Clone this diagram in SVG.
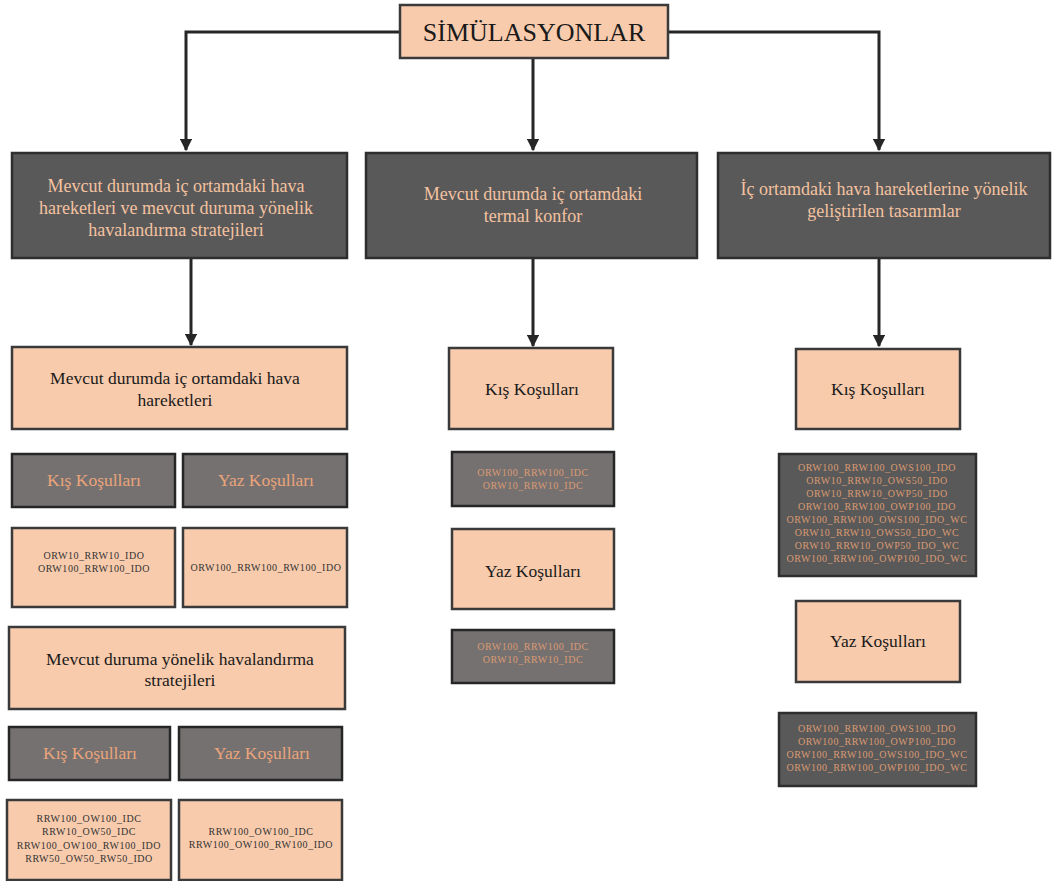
<svg xmlns="http://www.w3.org/2000/svg" width="1056" height="881" viewBox="0 0 1056 881">
<style>
.lt{fill:#f8cbad;stroke:#3a3a3a;stroke-width:2.5}
.dk{fill:#595959;stroke:#2e2e2e;stroke-width:2.5}
.md{fill:#767171;stroke:#262626;stroke-width:2.5}
text{font-family:"Liberation Serif","Times New Roman",serif;text-anchor:middle}
.t1{font-size:26px;fill:#1a1a1a}
.t2{font-size:18px;fill:#f4c2a0}
.t3{font-size:17.5px;fill:#1a1a1a}
.t4{font-size:17.5px;fill:#eaa47a}
.c1{font-size:10px;fill:#333;letter-spacing:0.55px}
.c2{font-size:10px;fill:#d99a72;letter-spacing:0.55px}
.cn{fill:none;stroke:#262626;stroke-width:3}
</style>
<defs>
<marker id="ah" viewBox="0 0 10 10" refX="9" refY="5" markerWidth="4.2" markerHeight="4.2" orient="auto" markerUnits="strokeWidth">
<path d="M0,0 L10,5 L0,10 Z" fill="#262626"/>
</marker>
</defs>
<rect width="1056" height="881" fill="#fff"/>
<g id="connectors">
<path class="cn" d="M400,32 H186 V150" marker-end="url(#ah)"/>
<path class="cn" d="M668,32 H879 V150" marker-end="url(#ah)"/>
<path class="cn" d="M533,58 V150" marker-end="url(#ah)"/>
<path class="cn" d="M191,258 V345" marker-end="url(#ah)"/>
<path class="cn" d="M533,258 V346" marker-end="url(#ah)"/>
<path class="cn" d="M879,258 V346" marker-end="url(#ah)"/>
</g>
<g id="root"><rect class="lt" x="400" y="5" width="268" height="53"/><text class="t1" x="534" y="41">SİMÜLASYONLAR</text></g>
<g id="n-left"><rect class="dk" x="12" y="153" width="335" height="105"/>
<text class="t2" x="176" y="192">Mevcut durumda iç ortamdaki hava</text>
<text class="t2" x="176" y="214">hareketleri ve mevcut duruma yönelik</text>
<text class="t2" x="176" y="236">havalandırma stratejileri</text></g>
<g id="n-mid"><rect class="dk" x="366" y="153" width="331" height="105"/>
<text class="t2" x="533" y="200">Mevcut durumda iç ortamdaki</text>
<text class="t2" x="533" y="222">termal konfor</text></g>
<g id="n-right"><rect class="dk" x="718" y="153" width="332" height="105"/>
<text class="t2" x="884" y="195">İç ortamdaki hava hareketlerine yönelik</text>
<text class="t2" x="884" y="217">geliştirilen tasarımlar</text></g>

<g id="l-hava"><rect class="lt" x="12" y="347" width="335" height="82"/>
<text class="t3" x="175" y="384">Mevcut durumda iç ortamdaki hava</text>
<text class="t3" x="175" y="406">hareketleri</text></g>
<g id="l-hava-kis"><rect class="md" x="12" y="454" width="163" height="53"/><text class="t4" x="94" y="486">Kış Koşulları</text></g>
<g id="l-hava-yaz"><rect class="md" x="183" y="454" width="164" height="53"/><text class="t4" x="266" y="486">Yaz Koşulları</text></g>
<g id="l-hava-kis-c"><rect class="lt" x="12" y="528" width="163" height="79"/>
<text class="c1" x="94" y="559">ORW10_RRW10_IDO</text>
<text class="c1" x="94" y="572">ORW100_RRW100_IDO</text></g>
<g id="l-hava-yaz-c"><rect class="lt" x="183" y="528" width="164" height="79"/>
<text class="c1" x="266" y="571">ORW100_RRW100_RW100_IDO</text></g>

<g id="l-str"><rect class="lt" x="9" y="627" width="336" height="82"/>
<text class="t3" x="180" y="665">Mevcut duruma yönelik havalandırma</text>
<text class="t3" x="180" y="686">stratejileri</text></g>
<g id="l-str-kis"><rect class="md" x="9" y="727" width="161" height="53"/><text class="t4" x="90" y="759">Kış Koşulları</text></g>
<g id="l-str-yaz"><rect class="md" x="179" y="727" width="163" height="53"/><text class="t4" x="262" y="759">Yaz Koşulları</text></g>
<g id="l-str-kis-c"><rect class="lt" x="7" y="800" width="164" height="80"/>
<text class="c1" x="89" y="822">RRW100_OW100_IDC</text>
<text class="c1" x="89" y="835">RRW10_OW50_IDC</text>
<text class="c1" x="89" y="849">RRW100_OW100_RW100_IDO</text>
<text class="c1" x="89" y="862">RRW50_OW50_RW50_IDO</text></g>
<g id="l-str-yaz-c"><rect class="lt" x="179" y="800" width="163" height="80"/>
<text class="c1" x="261" y="835">RRW100_OW100_IDC</text>
<text class="c1" x="261" y="848">RRW100_OW100_RW100_IDO</text></g>

<g id="m-kis"><rect class="lt" x="449" y="348" width="164" height="81"/><text class="t3" x="532" y="395">Kış Koşulları</text></g>
<g id="m-kis-c"><rect class="md" x="452" y="452" width="162" height="54"/>
<text class="c2" x="533" y="476">ORW100_RRW100_IDC</text>
<text class="c2" x="533" y="489">ORW10_RRW10_IDC</text></g>
<g id="m-yaz"><rect class="lt" x="452" y="529" width="162" height="80"/><text class="t3" x="533" y="577">Yaz Koşulları</text></g>
<g id="m-yaz-c"><rect class="md" x="452" y="630" width="162" height="53"/>
<text class="c2" x="533" y="650">ORW100_RRW100_IDC</text>
<text class="c2" x="533" y="663">ORW10_RRW10_IDC</text></g>

<g id="r-kis"><rect class="lt" x="796" y="349" width="164" height="80"/><text class="t3" x="878" y="395">Kış Koşulları</text></g>
<g id="r-kis-c"><rect class="dk" x="779" y="454" width="197" height="122"/>
<text class="c2" x="877" y="471">ORW100_RRW100_OWS100_IDO</text>
<text class="c2" x="877" y="484">ORW10_RRW10_OWS50_IDO</text>
<text class="c2" x="877" y="497">ORW10_RRW10_OWP50_IDO</text>
<text class="c2" x="877" y="510">ORW100_RRW100_OWP100_IDO</text>
<text class="c2" x="877" y="523">ORW100_RRW100_OWS100_IDO_WC</text>
<text class="c2" x="877" y="536">ORW10_RRW10_OWS50_IDO_WC</text>
<text class="c2" x="877" y="549">ORW10_RRW10_OWP50_IDO_WC</text>
<text class="c2" x="877" y="562">ORW100_RRW100_OWP100_IDO_WC</text></g>
<g id="r-yaz"><rect class="lt" x="796" y="601" width="164" height="81"/><text class="t3" x="878" y="647">Yaz Koşulları</text></g>
<g id="r-yaz-c"><rect class="dk" x="779" y="713" width="197" height="73"/>
<text class="c2" x="877" y="732">ORW100_RRW100_OWS100_IDO</text>
<text class="c2" x="877" y="745">ORW100_RRW100_OWP100_IDO</text>
<text class="c2" x="877" y="758">ORW100_RRW100_OWS100_IDO_WC</text>
<text class="c2" x="877" y="771">ORW100_RRW100_OWP100_IDO_WC</text></g>
</svg>
